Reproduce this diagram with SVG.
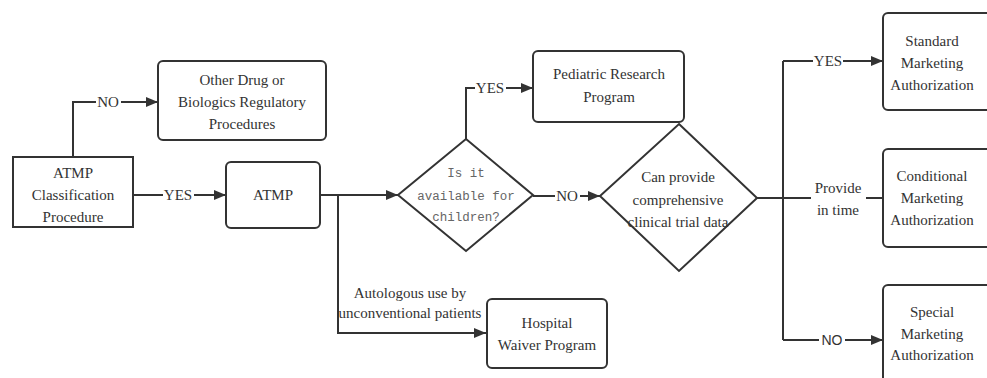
<svg xmlns="http://www.w3.org/2000/svg" width="987" height="378" viewBox="0 0 987 378" font-family="Liberation Serif, serif">
<style>
.box{fill:#fff;stroke:#333;stroke-width:2}
.t{font-size:15px;fill:#333;text-anchor:middle}
.m{font-size:12.5px;fill:#666;text-anchor:middle}
.s{font-size:14px;fill:#333;text-anchor:middle}
.c{fill:none;stroke:#333;stroke-width:2}
.lb{fill:#fff}
</style>
<defs>
<marker id="ah" viewBox="0 0 12 10" refX="12" refY="5" markerWidth="12" markerHeight="10" markerUnits="userSpaceOnUse" orient="auto">
<path d="M0,0 L12,5 L0,10 z" fill="#333"/>
</marker>
</defs>
<rect width="987" height="378" fill="#fff"/>
<g id="connectors">
<path class="c" d="M73,157 V102 H158" marker-end="url(#ah)"/>
<path class="c" d="M133,195 H226" marker-end="url(#ah)"/>
<path class="c" d="M320,195 H398" marker-end="url(#ah)"/>
<path class="c" d="M338,195 V333 H486" marker-end="url(#ah)"/>
<path class="c" d="M466,139 V88 H533" marker-end="url(#ah)"/>
<path class="c" d="M533,196 H600" marker-end="url(#ah)"/>
<path class="c" d="M757,198 H783"/>
<path class="c" d="M783,61 V340"/>
<path class="c" d="M783,61 H883" marker-end="url(#ah)"/>
<path class="c" d="M783,198 H883"/>
<path class="c" d="M783,340 H883" marker-end="url(#ah)"/>
<rect class="lb" x="96" y="92" width="25" height="20"/>
<text class="t" x="108" y="107">NO</text>
<rect class="lb" x="163" y="185" width="31" height="20"/>
<text class="t" x="178" y="200">YES</text>
<rect class="lb" x="475" y="78" width="31" height="20"/>
<text class="t" x="490" y="93">YES</text>
<rect class="lb" x="555" y="186" width="25" height="20"/>
<text class="t" x="567" y="201">NO</text>
<rect class="lb" x="813" y="51" width="30" height="20"/>
<text class="t" x="828" y="66">YES</text>
<rect class="lb" x="811" y="175" width="55" height="46"/>
<text class="t" x="838" y="193">Provide</text>
<text class="t" x="838" y="215">in time</text>
<rect class="lb" x="819" y="330" width="26" height="20"/>
<text class="s" x="832" y="345" font-family="Liberation Sans, sans-serif">NO</text>
<text class="t" x="410" y="298">Autologous use by</text>
<text class="t" x="410" y="318">unconventional patients</text>
</g>
<g id="classification">
<rect class="box" x="13" y="157" width="120" height="70"/>
<text class="t" x="73" y="178">ATMP</text>
<text class="t" x="73" y="200">Classification</text>
<text class="t" x="73" y="222">Procedure</text>
</g>
<g id="other-drug">
<rect class="box" x="158" y="61" width="168" height="79" rx="5"/>
<text class="t" x="242" y="85">Other Drug or</text>
<text class="t" x="242" y="107">Biologics Regulatory</text>
<text class="t" x="242" y="129">Procedures</text>
</g>
<g id="atmp">
<rect class="box" x="226" y="162" width="94" height="66" rx="5"/>
<text class="t" x="273" y="200">ATMP</text>
</g>
<g id="children" font-family="Liberation Mono, monospace">
<path class="box" d="M466,139 L533,195 L466,251 L398,195 Z"/>
<text class="m" x="466" y="177">Is it</text>
<text class="m" x="466" y="200">available for</text>
<text class="m" x="466" y="221">children?</text>
</g>
<g id="pediatric">
<rect class="box" x="533" y="51" width="151" height="71" rx="5"/>
<text class="t" x="609" y="79">Pediatric Research</text>
<text class="t" x="609" y="102">Program</text>
</g>
<g id="clinical">
<path class="box" d="M679,124 L757,198 L679,271 L600,196 Z"/>
<text class="t" x="678" y="182">Can provide</text>
<text class="t" x="678" y="205">comprehensive</text>
<text class="t" x="678" y="227">clinical trial data</text>
</g>
<g id="hospital">
<rect class="box" x="487" y="299" width="120" height="69" rx="5"/>
<text class="t" x="547" y="328">Hospital</text>
<text class="t" x="547" y="350">Waiver Program</text>
</g>
<g id="standard">
<rect class="box" x="883" y="13" width="112" height="97" rx="5"/>
<text class="t" x="932" y="46">Standard</text>
<text class="t" x="932" y="68">Marketing</text>
<text class="t" x="932" y="90">Authorization</text>
</g>
<g id="conditional">
<rect class="box" x="883" y="149" width="112" height="98" rx="5"/>
<text class="t" x="932" y="181">Conditional</text>
<text class="t" x="932" y="203">Marketing</text>
<text class="t" x="932" y="225">Authorization</text>
</g>
<g id="special">
<rect class="box" x="883" y="285" width="112" height="100" rx="5"/>
<text class="t" x="932" y="317">Special</text>
<text class="t" x="932" y="339">Marketing</text>
<text class="t" x="932" y="360">Authorization</text>
</g>
</svg>
